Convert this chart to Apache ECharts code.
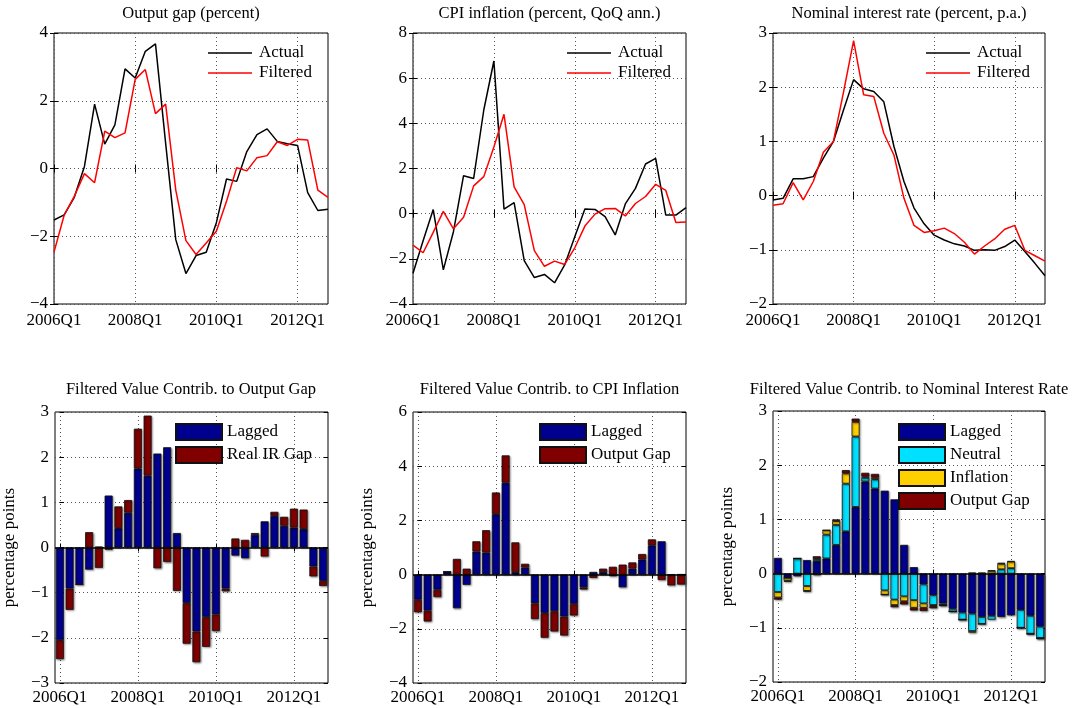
<!DOCTYPE html>
<html>
<head>
<meta charset="utf-8">
<title>Filtered values and contributions</title>
<script src="https://cdn.jsdelivr.net/npm/echarts@6/dist/echarts.min.js"></script>
<style>
   html, body { margin: 0; padding: 0; background: #fff; }
   #chartWrapper { width: 1082px; height: 708px; }
</style>
</head>
<body>
<div id="chartWrapper"></div>
<script>
var quarters = [
   '2006Q1', '2006Q2', '2006Q3', '2006Q4', '2007Q1', '2007Q2', '2007Q3', '2007Q4',
   '2008Q1', '2008Q2', '2008Q3', '2008Q4', '2009Q1', '2009Q2', '2009Q3', '2009Q4',
   '2010Q1', '2010Q2', '2010Q3', '2010Q4', '2011Q1', '2011Q2', '2011Q3', '2011Q4',
   '2012Q1', '2012Q2', '2012Q3', '2012Q4'
];
var labelTicks = [0, 8, 16, 24];

// output gap
var gapActual = [-1.52, -1.37, -0.85, 0.06, 1.9, 0.72, 1.29, 2.94, 2.67, 3.46, 3.68, 0.75, -2.1, -3.1,
   -2.57, -2.47, -1.6, -0.31, -0.38, 0.5, 1.0, 1.17, 0.8, 0.73, 0.68, -0.71, -1.24, -1.2];
var gapFiltered = [-2.47, -1.38, -0.82, -0.15, -0.42, 1.1, 0.91, 1.05, 2.63, 2.92, 1.62, 1.9, -0.64, -2.13,
   -2.54, -2.2, -1.85, -0.97, 0.02, -0.07, 0.32, 0.38, 0.79, 0.68, 0.86, 0.84, -0.64, -0.85];
var gapLagged = [-2.05, -0.91, -0.82, -0.49, 0.02, 1.15, 0.43, 0.77, 1.75, 1.59, 2.08, 2.22, 0.32, -1.23,
   -1.86, -1.54, -1.48, -0.91, -0.18, -0.24, 0.28, 0.58, 0.7, 0.48, 0.44, 0.41, -0.42, -0.74];
var gapRealIR = [-0.42, -0.47, 0, 0.34, -0.45, -0.05, 0.48, 0.28, 0.88, 1.33, -0.46, -0.32, -0.96, -0.9,
   -0.68, -0.66, -0.37, -0.06, 0.2, 0.17, 0.04, -0.2, 0.09, 0.2, 0.42, 0.43, -0.22, -0.11];

// CPI inflation
var cpiActual = [-2.64, -1.2, 0.18, -2.49, -0.8, 1.68, 1.56, 4.59, 6.76, 0.2, 0.49, -2.08, -2.83, -2.69,
   -3.06, -2.27, -1.02, 0.21, 0.19, -0.13, -0.94, 0.43, 1.12, 2.2, 2.45, -0.06, -0.06, 0.27];
var cpiFiltered = [-1.39, -1.73, -0.83, 0.1, -0.67, -0.16, 1.23, 1.64, 2.95, 4.4, 1.19, 0.4, -1.64, -2.33,
   -2.1, -2.25, -1.51, -0.55, -0.02, 0.22, 0.23, -0.1, 0.45, 0.76, 1.3, 1.03, -0.39, -0.37];
var cpiLagged = [-0.93, -1.33, -0.56, 0.11, -1.24, -0.38, 0.85, 0.81, 2.23, 3.39, 0.09, 0.26, -1.06, -1.42,
   -1.35, -1.55, -1.08, -0.47, 0.1, 0.09, -0.06, -0.47, 0.22, 0.56, 1.08, 1.23, -0.01, 0.01];
var cpiGap = [-0.46, -0.4, -0.27, 0, 0.58, 0.22, 0.38, 0.83, 0.8, 1.01, 1.1, 0.14, -0.58, -0.91,
   -0.75, -0.7, -0.43, -0.08, -0.12, 0.13, 0.29, 0.37, 0.23, 0.2, 0.22, -0.2, -0.39, -0.37];

// nominal interest rate
var irActual = [-0.08, -0.05, 0.31, 0.31, 0.35, 0.69, 1.0, 1.58, 2.14, 1.97, 1.92, 1.73, 0.91, 0.26,
   -0.23, -0.52, -0.73, -0.82, -0.89, -0.93, -1.01, -1.0, -1.01, -0.94, -0.82, -1.03, -1.25, -1.48];
var irFiltered = [-0.18, -0.15, 0.24, -0.08, 0.26, 0.8, 1.0, 1.91, 2.86, 1.86, 1.83, 1.15, 0.75, -0.05,
   -0.55, -0.68, -0.65, -0.6, -0.7, -0.86, -1.08, -0.93, -0.8, -0.62, -0.55, -1.01, -1.11, -1.21];
var irLagged = [0.29, -0.08, -0.05, 0.25, 0.23, 0.28, 0.53, 0.78, 1.23, 1.7, 1.57, 1.53, 1.37, 0.53,
   0.12, -0.2, -0.4, -0.55, -0.65, -0.72, -0.74, -0.8, -0.78, -0.8, -0.77, -0.67, -0.78, -0.98];
var irNeutral = [-0.34, 0, 0.28, -0.23, 0.04, 0.44, 0.37, 0.88, 1.3, 0.07, 0.17, -0.31, -0.48, -0.42,
   -0.49, -0.35, -0.18, -0.03, -0.05, -0.13, -0.32, -0.13, -0.07, 0.08, 0.1, -0.33, -0.33, -0.21];
var irInflation = [-0.1, -0.05, 0, -0.09, -0.03, 0.08, 0.07, 0.19, 0.27, 0.02, 0.03, -0.08, -0.1, -0.09,
   -0.14, -0.08, -0.02, 0, 0, 0, -0.03, 0, 0.05, 0.1, 0.12, 0, 0, 0];
var irOutGap = [-0.04, -0.02, 0, -0.01, 0.05, 0, 0.03, 0.06, 0.06, 0.07, 0.07, 0, -0.04, -0.06,
   -0.05, -0.06, -0.04, -0.02, 0, 0, 0.02, 0.02, 0.01, 0.02, 0.01, 0, -0.01, -0.02];

var FONT = 'Liberation Serif';
var colors = {
   actual: '#000000',
   filtered: '#ff0000',
   lagged: '#000090',
   neutral: '#00e0ff',
   inflation: '#ffd000',
   gap: '#800000'
};

var panels = [
   { title: 'Output gap (percent)', left: 54, top: 33, width: 274, height: 271, min: -4, max: 4, step: 2, legendLeft: 208 },
   { title: 'CPI inflation (percent, QoQ ann.)', left: 413, top: 33, width: 273, height: 271, min: -4, max: 8, step: 2, legendLeft: 567 },
   { title: 'Nominal interest rate (percent, p.a.)', left: 773, top: 33, width: 272, height: 271, min: -2, max: 3, step: 1, legendLeft: 926 },
   { title: 'Filtered Value Contrib. to Output Gap', left: 54, top: 412, width: 274, height: 271, min: -3, max: 3, step: 1, legendLeft: 175 },
   { title: 'Filtered Value Contrib. to CPI Inflation', left: 413, top: 412, width: 273, height: 271, min: -4, max: 6, step: 2, legendLeft: 539 },
   { title: 'Filtered Value Contrib. to Nominal Interest Rate', left: 773, top: 411, width: 272, height: 271, min: -2, max: 3, step: 1, legendLeft: 898 }
];

var pairs = function(arr) {
   var out = [];
   for(var i = 0; i < arr.length; i++) {
      out.push([i, arr[i]]);
   }
   return out;
};

var minus = function(v) {
   return String(v).replace('-', '\u2212');
};

var everyEighth = function(idx) {
   return idx % 8 === 0;
};

var dotted = { type: [1, 3], color: '#555', width: 1 };
var tickStyle = { show: true, inside: true, length: 4, lineStyle: { color: '#000' } };

var lineSeries = function(name, idx, arr, color) {
   return {
      type: 'line', name: name, xAxisIndex: idx, yAxisIndex: idx,
      data: pairs(arr), symbol: 'none', showSymbol: false,
      lineStyle: { color: color, width: 1.5 },
      itemStyle: { color: color }
   };
};

// bar panels sit on a hidden category axis (xAxis 9..11) so stacking works
var barSeries = function(name, idx, arr, color, withBase) {
   var s = {
      type: 'bar', name: name, xAxisIndex: idx + 6, yAxisIndex: idx,
      stack: 'contrib' + idx, data: arr, barWidth: 8,
      itemStyle: {
         color: color, borderColor: '#111', borderWidth: 0.8,
         shadowColor: 'rgba(0,0,0,0.45)', shadowBlur: 2, shadowOffsetX: 1, shadowOffsetY: 1
      }
   };
   if(withBase) {
      s.markLine = {
         silent: true, symbol: ['none', 'none'],
         label: { show: false },
         lineStyle: { color: '#000', width: 1.5, type: 'solid' },
         data: [{ yAxis: 0 }]
      };
   }
   return s;
};

var grids = [], xAxes = [], yAxes = [], titles = [], legends = [];
var k, p, isBar;

for(k = 0; k < panels.length; k++) {
   p = panels[k];
   isBar = k >= 3;

   grids.push({
      left: p.left, top: p.top, width: p.width, height: p.height,
      show: true, borderColor: '#000', borderWidth: 1, backgroundColor: '#fff'
   });

   // visible quarter axis, value based so grid lines sit on the labelled quarters
   xAxes.push({
      gridIndex: k, type: 'value', position: 'bottom',
      min: isBar ? -0.5 : 0, max: isBar ? 27.5 : 27,
      axisLine: { show: false },
      axisTick: { show: true, inside: true, length: 4, customValues: labelTicks, lineStyle: { color: '#000' } },
      axisLabel: {
         customValues: labelTicks, margin: isBar ? 6 : 8,
         fontFamily: FONT, fontSize: 17, color: '#000',
         formatter: function(v) { return quarters[v] || ''; }
      },
      splitLine: { show: true, lineStyle: dotted }
   });

   yAxes.push({
      gridIndex: k, type: 'value', position: 'left', min: p.min, max: p.max, interval: p.step,
      name: isBar ? 'percentage points' : '',
      nameLocation: 'middle', nameRotate: 90, nameGap: 37,
      nameTextStyle: { fontFamily: FONT, fontSize: 17, color: '#000' },
      axisLine: { show: false },
      axisTick: tickStyle,
      axisLabel: { margin: 6, fontFamily: FONT, fontSize: 17, color: '#000', formatter: minus },
      splitLine: { show: true, lineStyle: dotted }
   });

   titles.push({
      text: p.title,
      left: p.left + p.width / 2, textAlign: 'center',
      top: isBar ? 381 : 5, padding: 0,
      textStyle: { fontFamily: FONT, fontSize: 16.5, fontWeight: 'normal', color: '#000' }
   });
}

// top tick marks for the line panels (xAxis 6..8)
for(k = 0; k < 3; k++) {
   xAxes.push({
      gridIndex: k, type: 'value', position: 'top', min: 0, max: 27,
      axisLine: { show: false },
      axisTick: { show: true, inside: true, length: 4, customValues: labelTicks, lineStyle: { color: '#000' } },
      axisLabel: { show: false },
      splitLine: { show: false }
   });
}

// category axis carrying the bars, also gives the top tick marks (xAxis 9..11)
for(k = 3; k < 6; k++) {
   xAxes.push({
      gridIndex: k, type: 'category', position: 'top', data: quarters, boundaryGap: true,
      axisLine: { show: false },
      axisTick: { show: true, inside: true, length: 4, alignWithLabel: true, interval: everyEighth, lineStyle: { color: '#000' } },
      axisLabel: { show: false, interval: everyEighth },
      splitLine: { show: false }
   });
}

// right tick marks (yAxis 6..11)
for(k = 0; k < panels.length; k++) {
   p = panels[k];
   yAxes.push({
      gridIndex: k, type: 'value', position: 'right', min: p.min, max: p.max, interval: p.step,
      axisLine: { show: false },
      axisTick: tickStyle,
      axisLabel: { show: false },
      splitLine: { show: false }
   });
}

legends.push({ data: ['Actual', 'Filtered'] }, { data: ['Actual', 'Filtered'] }, { data: ['Actual', 'Filtered'] });
legends.push({ data: ['Lagged', 'Real IR Gap'] });
legends.push({ data: ['Lagged', 'Output Gap'] });
legends.push({ data: ['Lagged', 'Neutral', 'Inflation', 'Output Gap'] });

for(var j = 0; j < legends.length; j++) {
   var lg = legends[j];
   lg.orient = 'vertical';
   lg.left = panels[j].legendLeft;
   lg.padding = 0;
   lg.selectedMode = false;
   lg.icon = 'rect';
   if(j < 3) {
      lg.top = 43;
      lg.itemWidth = 44;
      lg.itemHeight = 1.6;
      lg.itemGap = 0;
      lg.textStyle = { fontFamily: FONT, fontSize: 17, color: '#000', lineHeight: 20, padding: [0, 0, 0, 2] };
   }
   else {
      lg.top = 423;
      lg.itemWidth = 46;
      lg.itemHeight = 16;
      lg.itemGap = 5;
      lg.textStyle = { fontFamily: FONT, fontSize: 17, color: '#000', lineHeight: 16 };
   }
}

var series = [
   lineSeries('Actual', 0, gapActual, colors.actual),
   lineSeries('Filtered', 0, gapFiltered, colors.filtered),
   lineSeries('Actual', 1, cpiActual, colors.actual),
   lineSeries('Filtered', 1, cpiFiltered, colors.filtered),
   lineSeries('Actual', 2, irActual, colors.actual),
   lineSeries('Filtered', 2, irFiltered, colors.filtered),
   barSeries('Lagged', 3, gapLagged, colors.lagged, true),
   barSeries('Real IR Gap', 3, gapRealIR, colors.gap),
   barSeries('Lagged', 4, cpiLagged, colors.lagged, true),
   barSeries('Output Gap', 4, cpiGap, colors.gap),
   barSeries('Lagged', 5, irLagged, colors.lagged, true),
   barSeries('Neutral', 5, irNeutral, colors.neutral),
   barSeries('Inflation', 5, irInflation, colors.inflation),
   barSeries('Output Gap', 5, irOutGap, colors.gap)
];

var chart = echarts.init(document.getElementById('chartWrapper'), null, { renderer: 'canvas' });

chart.setOption({
   animation: false,
   backgroundColor: '#fff',
   title: titles,
   legend: legends,
   grid: grids,
   xAxis: xAxes,
   yAxis: yAxes,
   series: series
});
</script>
</body>
</html>
